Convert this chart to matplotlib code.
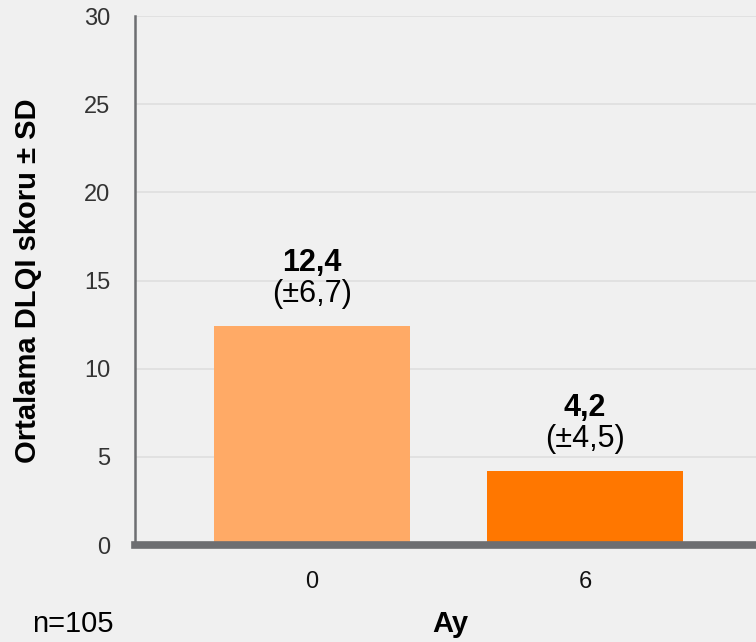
import matplotlib
matplotlib.use('Agg')
import matplotlib.pyplot as plt

# DLQI means at month 0 and month 6
months = ['0', '6']
means = [12.4, 4.2]
sds = [6.7, 4.5]
bar_colors = ['#FFAA66', '#FF7700']

plt.rcParams['font.family'] = ['Liberation Sans', 'DejaVu Sans']

bg = '#F0F0F0'
axis_gray = '#6D6E71'

fig = plt.figure(figsize=(7.56, 6.42), dpi=100, facecolor=bg)
ax = fig.add_axes([0.1786, 0.151, 0.8214, 0.824])
ax.set_facecolor(bg)

x = list(range(len(months)))
bars = ax.bar(x, means, width=0.718, color=bar_colors, zorder=3)

ax.set_ylim(0, 30)
ax.set_xlim(-0.648, 1.626)
ax.set_yticks(range(0, 31, 5))
ax.set_xticks(x)
ax.set_xticklabels(months)
ax.yaxis.grid(True, color='#DEDEDE', linewidth=1.2, zorder=0)
ax.set_axisbelow(True)

for side in ['top', 'right']:
    ax.spines[side].set_visible(False)
ax.spines['left'].set_color(axis_gray)
ax.spines['left'].set_linewidth(1.8)
ax.spines['bottom'].set_color(axis_gray)
ax.spines['bottom'].set_linewidth(5.5)
ax.spines['bottom'].set_zorder(4)

ax.tick_params(axis='y', length=0, pad=18, labelsize=17, labelcolor='#333333')
ax.tick_params(axis='x', length=0, pad=19, labelsize=17, labelcolor='#111111')

ax.set_ylabel('Ortalama DLQI skoru ± SD', fontsize=21, fontweight='bold')
ax.yaxis.set_label_coords((42 - 135) / 621, 0.5)

# value labels above bars
for b, m, s in zip(bars, means, sds):
    cx = b.get_x() + b.get_width() / 2
    ax.annotate(f'({s:.1f})'.replace('.', ',').replace('(', '(±'), (cx, m),
                xytext=(0, 17), textcoords='offset pixels',
                ha='center', va='bottom', fontsize=22)
    ax.annotate(f'{m:.1f}'.replace('.', ','), (cx, m),
                xytext=(0, 48), textcoords='offset pixels',
                ha='center', va='bottom', fontsize=22, fontweight='bold')

fig.text(450 / 756, 1 - 624 / 642, 'Ay', ha='center', va='center',
         fontsize=21, fontweight='bold')
fig.text(32 / 756, 1 - 624 / 642, 'n=105', ha='left', va='center', fontsize=21)

fig.savefig('out.png', dpi=100, facecolor=bg)
